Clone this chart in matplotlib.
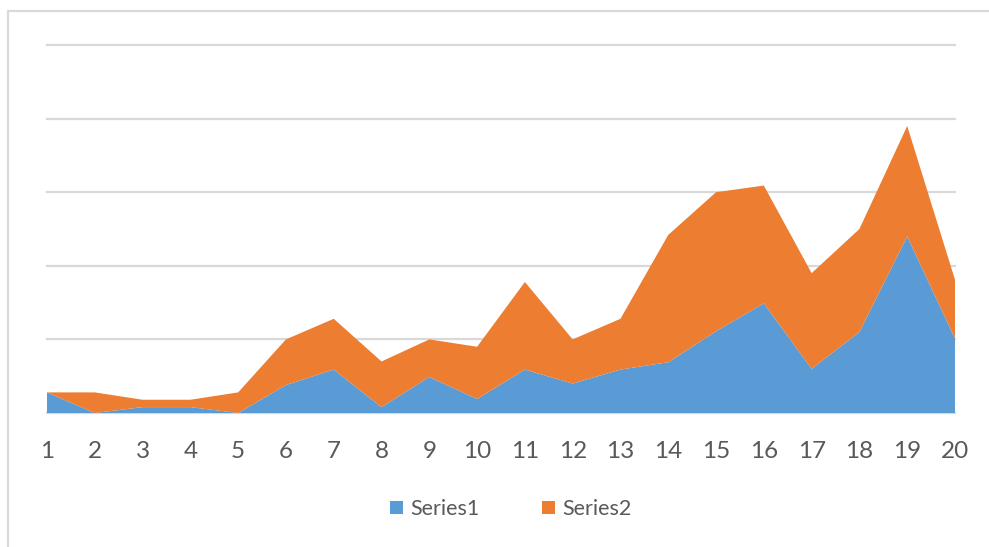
import matplotlib as mpl
mpl.use('Agg')
from matplotlib import pyplot as plt
from matplotlib.patches import Patch
from matplotlib.lines import Line2D

# values, in units of one gridline step
points = list(range(1, 21))
series1 = [0.28, 0.0, 0.08, 0.08, 0.0, 0.38, 0.59, 0.08, 0.49, 0.19,
           0.59, 0.40, 0.59, 0.69, 1.11, 1.49, 0.60, 1.10, 2.40, 1.01]
series2 = [0.0, 0.28, 0.10, 0.10, 0.28, 0.62, 0.69, 0.62, 0.51, 0.71,
           1.19, 0.60, 0.69, 1.73, 1.89, 1.60, 1.30, 1.40, 1.50, 0.80]
names = ['Series1', 'Series2']
colors = ['#5B9BD5', '#ED7D31']

plt.rcParams['font.family'] = ['Lato', 'DejaVu Sans']
text_col = '#595959'
grid_col = '#D9D9D9'

W, H = 989, 547
fig = plt.figure(figsize=(W / 100, H / 100), dpi=100)
ax = fig.add_axes([47 / W, 1 - 413 / H, (955 - 47) / W, (413 - 45) / H])

ax.stackplot(points, series1, series2, colors=colors, linewidth=0, zorder=2)

ax.set_xlim(1, 20)
ax.set_ylim(0, 5)
ax.set_xticks(points)
ax.set_yticks(range(0, 6))
ax.set_yticklabels([])
ax.yaxis.grid(True, color=grid_col, linewidth=1.6)
for gl in ax.get_ygridlines():
    gl.set_clip_on(False)
ax.set_axisbelow(True)
ax.tick_params(axis='x', length=0, pad=20, labelsize=17.5, labelcolor=text_col)
ax.tick_params(axis='y', length=0)
for s in ax.spines.values():
    s.set_visible(False)

# outer chart border (cut off on the right and bottom)
fig.add_artist(Line2D([8 / W, 8 / W, 1.0], [0.0, 1 - 11 / H, 1 - 11 / H],
                      color=grid_col, linewidth=1.6, transform=fig.transFigure))

handles = [Patch(facecolor=c, edgecolor='none') for c in colors]
fig.legend(handles, names, loc='center', bbox_to_anchor=(511 / W, 1 - 509 / H),
           ncol=2, frameon=False, fontsize=15.5, labelcolor=text_col,
           handlelength=0.6, handleheight=0.6, handletextpad=0.35,
           columnspacing=2.9)

fig.savefig('out.png', dpi=100)
